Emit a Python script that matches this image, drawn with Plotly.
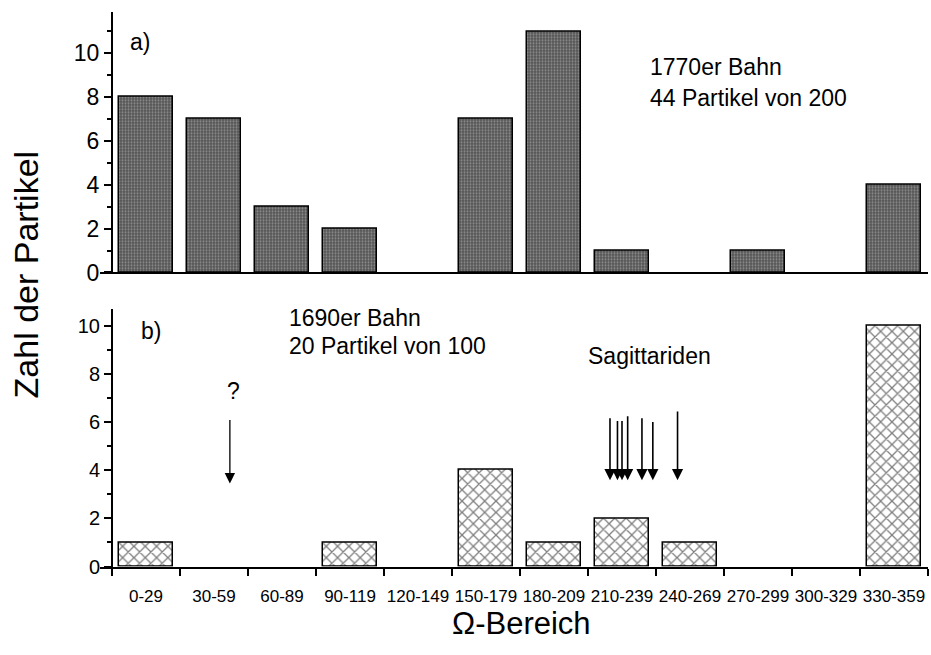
import plotly.graph_objects as go

# ---- data ----
categories = ["0-29", "30-59", "60-89", "90-119", "120-149", "150-179",
              "180-209", "210-239", "240-269", "270-299", "300-329", "330-359"]
bin_start = [0, 30, 60, 90, 120, 150, 180, 210, 240, 270, 300, 330]
counts_1770 = [8, 7, 3, 2, 0, 7, 11, 1, 0, 1, 0, 4]
counts_1690 = [1, 0, 0, 1, 0, 4, 1, 2, 1, 0, 0, 10]
sagittarid_omega = [219.7, 223.0, 225.0, 227.5, 233.8, 238.6, 249.5]
sagittarid_top = [6.22, 6.10, 6.10, 6.30, 6.22, 6.06, 6.50]
question_omega = 52.0

centers = [s + 15 for s in bin_start]
y_1770 = [v if v > 0 else None for v in counts_1770]
y_1690 = [v if v > 0 else None for v in counts_1690]
FONT = "Liberation Sans, Arial, Helvetica, sans-serif"

W, H = 931, 655

fig = go.Figure()
fig.add_trace(go.Bar(
    x=centers, y=y_1770, width=24, xaxis="x", yaxis="y",
    marker=dict(color="#555555", line=dict(color="black", width=1.5),
                pattern=dict(shape=".", bgcolor="#555555", fgcolor="#cccccc",
                             size=3, solidity=0.35)),
    showlegend=False, hoverinfo="skip"))
fig.add_trace(go.Bar(
    x=centers, y=y_1690, width=24, xaxis="x2", yaxis="y2",
    marker=dict(color="white", line=dict(color="black", width=1.5),
                pattern=dict(shape="x", bgcolor="white", fgcolor="black",
                             size=8, solidity=0.3)),
    showlegend=False, hoverinfo="skip"))

x0 = 100 / W
x1 = 928 / W
yaxis_pos = 112 / W
xr = [-5.3, 360]


def py(px):
    return 1 - px / H


common_x = dict(range=xr, showline=True, linecolor="black", linewidth=2,
                showgrid=False, zeroline=False, fixedrange=True)
fig.update_layout(
    width=W, height=H,
    margin=dict(l=0, r=0, t=0, b=0),
    paper_bgcolor="white", plot_bgcolor="white",
    bargap=0,
    font=dict(family=FONT, color="black"),
    xaxis=dict(domain=[x0, x1], anchor="y", showticklabels=False, ticks="",
               **common_x),
    yaxis=dict(domain=[py(278), py(12)], range=[0, 11.9],
               anchor="free", position=yaxis_pos,
               showline=True, linecolor="black", linewidth=2,
               showgrid=False, zeroline=False,
               tickmode="array", tickvals=[0, 2, 4, 6, 8, 10],
               ticks="outside", ticklen=7, tickwidth=2, tickcolor="black",
               minor=dict(dtick=1, tick0=0, ticks="outside", ticklen=4,
                          tickwidth=1.5, tickcolor="black"),
               tickfont=dict(size=23, family=FONT)),
    xaxis2=dict(domain=[x0, x1], anchor="y2",
                tickmode="array", tickvals=centers, ticktext=categories,
                ticks="", ticklabelstandoff=13,
                tickfont=dict(size=17, family=FONT),
                minor=dict(tickmode="linear", tick0=0, dtick=30, ticks="outside",
                           ticklen=7, tickwidth=2, tickcolor="black"),
                **common_x),
    yaxis2=dict(domain=[py(578), py(315)], range=[0, 10.7],
                anchor="free", position=yaxis_pos,
                showline=True, linecolor="black", linewidth=2,
                showgrid=False, zeroline=False,
                tickmode="array", tickvals=[0, 2, 4, 6, 8, 10],
                ticks="outside", ticklen=7, tickwidth=2, tickcolor="black",
                minor=dict(dtick=1, tick0=0, ticks="outside", ticklen=4,
                           tickwidth=1.5, tickcolor="black"),
                tickfont=dict(size=20, family=FONT)),
)

TXT = 23
ann = []
ann.append(dict(x=7, y=10.5, xref="x", yref="y", text="a)", showarrow=False,
                xanchor="left", font=dict(size=TXT)))
ann.append(dict(x=236.4, y=9.4, xref="x", yref="y", text="1770er Bahn",
                showarrow=False, xanchor="left", font=dict(size=TXT)))
ann.append(dict(x=236.4, y=7.98, xref="x", yref="y", text="44 Partikel von 200",
                showarrow=False, xanchor="left", font=dict(size=TXT)))
ann.append(dict(x=12, y=9.76, xref="x2", yref="y2", text="b)", showarrow=False,
                xanchor="left", font=dict(size=TXT)))
ann.append(dict(x=77, y=10.3, xref="x2", yref="y2", text="1690er Bahn",
                showarrow=False, xanchor="left", font=dict(size=TXT)))
ann.append(dict(x=77, y=9.15, xref="x2", yref="y2", text="20 Partikel von 100",
                showarrow=False, xanchor="left", font=dict(size=TXT)))
ann.append(dict(x=237, y=8.74, xref="x2", yref="y2", text="Sagittariden",
                showarrow=False, font=dict(size=TXT)))
ann.append(dict(x=question_omega + 1.5, y=7.3, xref="x2", yref="y2", text="?",
                showarrow=False, font=dict(size=TXT)))
ann.append(dict(x=question_omega, y=3.45, ax=question_omega, ay=6.14,
                xref="x2", yref="y2", axref="x2", ayref="y2", text="",
                showarrow=True, arrowhead=2, arrowsize=1.6, arrowwidth=1.3,
                arrowcolor="black"))
for om, top in zip(sagittarid_omega, sagittarid_top):
    ann.append(dict(x=om, y=3.58, ax=om, ay=top,
                    xref="x2", yref="y2", axref="x2", ayref="y2", text="",
                    showarrow=True, arrowhead=2, arrowsize=1.4, arrowwidth=1.6,
                    arrowcolor="black"))
ann.append(dict(x=26 / W, y=py(280), xref="paper", yref="paper",
                xanchor="center", yanchor="middle",
                text="Zahl der Partikel", textangle=-90, showarrow=False,
                font=dict(size=34)))
ann.append(dict(x=521 / W, y=py(636), xref="paper", yref="paper",
                xanchor="center", yanchor="middle",
                text="Ω-Bereich", showarrow=False, font=dict(size=31)))
fig.update_layout(annotations=ann)

fig.write_html("out.html", config={"displayModeBar": False},
               post_script="document.body.style.margin='0';document.body.style.overflow='hidden';")
